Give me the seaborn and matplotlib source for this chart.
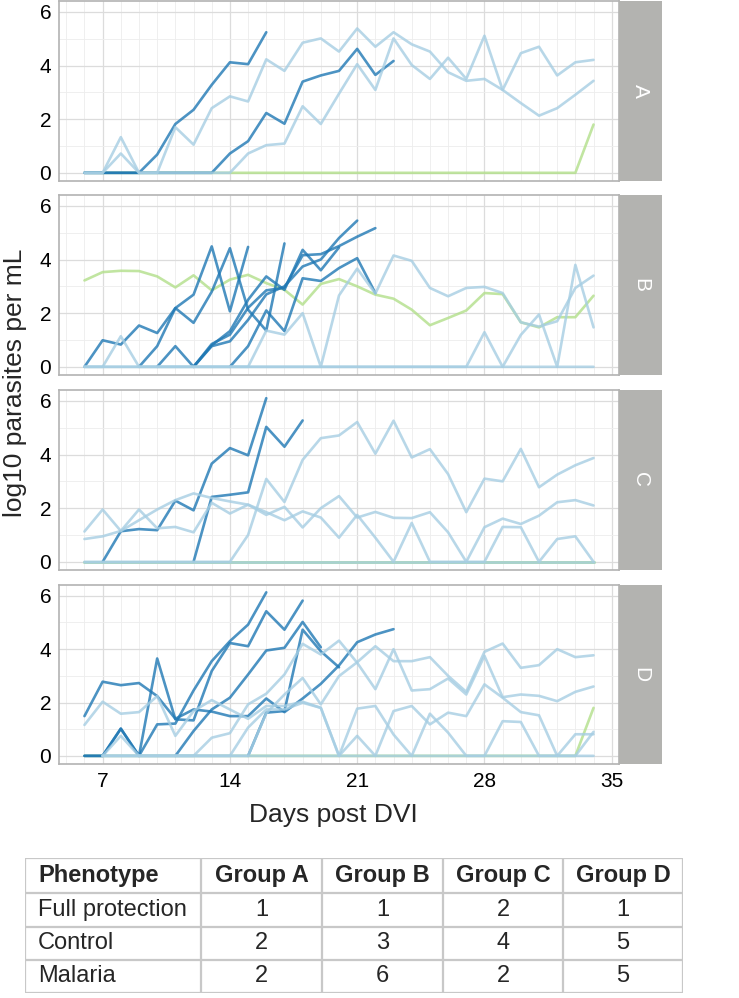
import numpy as np
import pandas as pd
import seaborn as sns
import matplotlib.pyplot as plt
from matplotlib.ticker import MultipleLocator

# each track: (first day, log10 parasites per mL for consecutive days)
a_full = [(6, [0] * 28 + [1.8])]
a_control = [
    (6, [0, 0, 1.33, 0, 0, 1.7, 1.05, 2.41, 2.85, 2.66, 4.23, 3.8, 4.85, 5.01, 4.52, 5.38,
         4.7, 5.24, 4.79, 4.52, 3.75, 3.43, 3.5, 3.09, 2.6, 2.13, 2.41, 2.91, 3.43]),
    (6, [0, 0, 0.72, 0, 0, 0, 0, 0, 0, 0.72, 1.03, 1.09, 2.48, 1.82, 2.95, 4.05,
         3.09, 5.01, 4.02, 3.5, 4.29, 3.5, 5.11, 3.09, 4.46, 4.7, 3.63, 4.12, 4.21]),
]
a_malaria = [
    (6, [0, 0, 0, 0, 0.68, 1.82, 2.35, 3.28, 4.12, 4.05, 5.24]),
    (6, [0, 0, 0, 0, 0, 0, 0, 0, 0.72, 1.18, 2.23, 1.83, 3.4, 3.63, 3.8, 4.62, 3.65, 4.17]),
]

b_full = [(6, [3.22, 3.53, 3.58, 3.57, 3.37, 2.96, 3.41, 2.85, 3.25, 3.43, 3.12, 2.87, 2.32,
               3.09, 3.27, 3.0, 2.69, 2.54, 2.13, 1.55, 1.82, 2.1, 2.75, 2.71, 1.66, 1.47,
               1.85, 1.85, 2.65])]
b_control = [
    (6, [0] * 10 + [1.35, 1.2, 2.0, 0, 2.66, 3.66, 2.73, 4.15, 3.95, 2.94, 2.63, 2.94, 2.98,
                    2.75, 1.66, 1.5, 1.7, 2.94, 3.4]),
    (6, [0] * 22 + [1.29, 0, 1.19, 1.95, 0, 3.8, 1.47]),
    (6, [0, 0, 1.14] + [0] * 26),
]
b_malaria = [
    (6, [0, 0.99, 0.83, 1.54, 1.26, 2.19, 1.64, 2.8, 4.42, 2.13, 1.35, 4.6]),
    (9, [0, 0.77, 2.19, 2.69, 4.49, 2.07, 4.47]),
    (12, [0, 0.8, 1.33, 2.5, 3.37, 2.87, 4.36, 3.6, 4.45]),
    (12, [0, 0.77, 0.95, 1.75, 2.7, 3.0, 3.74, 4.0, 4.8, 5.45]),
    (10, [0, 0.77, 0, 0.85, 1.2, 2.2, 2.85, 2.95, 4.16, 4.2, 4.5, 4.85, 5.17]),
    (14, [0, 0.77, 2.1, 1.33, 3.3, 3.2, 3.68, 4.05, 2.75]),
]

c_full = [(6, [0] * 29), (6, [0] * 29)]
c_control = [
    (6, [1.13, 1.95, 1.15, 1.95, 1.25, 1.3, 1.1, 2.2, 1.8, 2.13, 1.75, 2.05, 1.28, 2.0, 2.45,
         1.65, 1.86, 1.64, 1.63, 1.85, 1.1, 0, 1.29, 1.61, 1.41, 1.72, 2.22, 2.3, 2.1]),
    (6, [0.85, 0.95, 1.15, 1.55, 1.95, 2.3, 2.55, 2.38, 2.25, 2.13, 1.85, 1.55, 1.88, 1.65,
         0.9, 1.75, 0.9, 0, 1.45, 0, 0, 0, 0, 1.3, 1.29, 0, 0.85, 0.95, 0]),
    (6, [0] * 9 + [1.0, 3.09, 2.23, 3.8, 4.61, 4.71, 5.21, 4.03, 5.26, 3.89, 4.2, 3.27, 1.85,
                   3.1, 3.0, 4.21, 2.78, 3.25, 3.6, 3.87]),
    (6, [0] * 29),
]
c_malaria = [
    (7, [0, 1.14, 1.22, 1.18, 2.28, 1.92, 3.66, 4.24, 3.97, 6.1]),
    (12, [0, 2.42, 2.5, 2.59, 5.03, 4.29, 5.27]),
]

d_full = [(6, [0] * 28 + [1.8])]
d_control = [
    (6, [1.16, 2.03, 1.58, 1.64, 2.24, 0.75, 1.68, 2.09, 1.74, 1.39, 1.87, 1.87, 2.03, 1.8, 0,
         1.77, 1.87, 0.8, 0, 1.58, 0.87, 0, 0, 1.3, 1.27, 0, 0, 0.81, 0.81]),
    (7, [0] * 6 + [0.68, 0.85, 1.93, 2.33, 3.05, 4.2, 3.8, 4.32, 3.49, 2.5, 4.0, 2.45, 2.5,
                   2.9, 2.3, 3.75, 2.2, 2.3, 2.25, 2.05, 2.4, 2.6]),
    (7, [0] * 8 + [1.06, 1.74, 1.74, 1.99, 1.8, 0, 0.75, 0, 1.68, 1.87, 1.18, 1.62, 1.49,
                   2.68, 2.18, 1.64, 1.52, 0, 0, 0.9]),
    (7, [0] * 9 + [1.6, 2.3, 2.92, 1.93, 2.99, 3.51, 4.11, 3.55, 3.55, 3.7, 3.0, 2.4, 3.9,
                   4.21, 3.3, 3.4, 4.0, 3.7, 3.77]),
    (7, [0, 0.75] + [0] * 26),
]
d_malaria = [
    (6, [1.49, 2.78, 2.65, 2.73, 2.24, 1.39, 1.74, 1.66, 1.49, 1.49, 2.15, 1.64, 2.15, 2.7,
         3.39, 4.26, 4.55, 4.75]),
    (6, [0, 0, 1.02, 0, 3.65, 1.37, 1.33, 3.18, 4.23, 4.11, 5.42, 4.73, 5.82]),
    (6, [0, 0, 1.02, 0, 1.18, 1.21, 2.45, 3.55, 4.3, 4.92, 6.13]),
    (11, [0, 0.93, 1.74, 2.18, 3.05, 3.95, 4.05, 5.02, 4.07]),
    (15, [0, 1.62, 1.68, 4.73, 3.92, 3.32]),
]

panels = ["A", "B", "C", "D"]
groups = {
    "A": {"Full protection": a_full, "Control": a_control, "Malaria": a_malaria},
    "B": {"Full protection": b_full, "Control": b_control, "Malaria": b_malaria},
    "C": {"Full protection": c_full, "Control": c_control, "Malaria": c_malaria},
    "D": {"Full protection": d_full, "Control": d_control, "Malaria": d_malaria},
}

# table below the chart
table_header = ["Phenotype", "Group A", "Group B", "Group C", "Group D"]
phenotypes = ["Full protection", "Control", "Malaria"]
full_counts = [1, 1, 2, 1]
control_counts = [2, 3, 4, 5]
malaria_counts = [2, 6, 2, 5]

rows = []
for p in panels:
    for phen, tracks in groups[p].items():
        for i, (start, vals) in enumerate(tracks):
            for k, v in enumerate(vals):
                rows.append({"panel": p, "phenotype": phen, "subject": f"{p}{phen}{i}",
                             "day": start + k, "log10": v})
df = pd.DataFrame(rows)

palette = {"Full protection": "#b2df8a", "Malaria": "#1f78b4", "Control": "#a6cee3"}

sns.set_theme(style="white")
plt.rcParams['font.family'] = ['Liberation Sans', 'DejaVu Sans']

W, H = 739, 998
fig = plt.figure(figsize=(W / 100, H / 100), dpi=100)

panel_px = [(1, 181), (195, 375), (390, 570), (585, 764)]
left, right, strip_w = 59, 619, 43

for p, (top, bot) in zip(panels, panel_px):
    ax = fig.add_axes([left / W, 1 - bot / H, (right - left) / W, (bot - top) / H])
    sns.lineplot(data=df[df.panel == p], x="day", y="log10", hue="phenotype",
                 hue_order=["Full protection", "Malaria", "Control"], palette=palette,
                 units="subject", estimator=None, linewidth=1.9, alpha=0.8,
                 legend=False, ax=ax)
    ax.set_xlim(4.6, 35.4)
    ax.set_ylim(-0.305, 6.405)
    ax.set_xticks([7, 14, 21, 28, 35])
    ax.set_yticks([0, 2, 4, 6])
    ax.xaxis.set_minor_locator(MultipleLocator(1))
    ax.yaxis.set_minor_locator(MultipleLocator(1))
    ax.set_axisbelow(True)
    ax.grid(which="major", color="#dcdcdc", lw=0.9)
    ax.grid(which="minor", color="#ededed", lw=0.6)
    for s in ax.spines.values():
        s.set_color("#b3b3b3")
        s.set_linewidth(1.2)
    ax.tick_params(which="major", length=2.5, width=0.9, color="#b3b3b3",
                   labelcolor="black", labelsize=15, pad=3)
    ax.tick_params(which="minor", length=0)
    ax.set_xlabel("")
    ax.set_ylabel("")
    if p != "D":
        ax.set_xticklabels([])
        ax.tick_params(axis="x", length=0)

    sax = fig.add_axes([right / W, 1 - bot / H, strip_w / W, (bot - top) / H])
    sax.set_facecolor("#b3b3b0")
    sax.set_xticks([])
    sax.set_yticks([])
    for s in sax.spines.values():
        s.set_visible(False)
    sax.text(0.5, 0.5, p, rotation=270, ha="center", va="center", color="white",
             fontsize=15, transform=sax.transAxes)

fig.text(333 / W, 1 - 815 / H, "Days post DVI", ha="center", va="center", fontsize=19)
fig.text(15 / W, 1 - 383 / H, "log10 parasites per mL", rotation=90,
         ha="center", va="center", fontsize=19)

# table
tx0, tx1, ty0, ty1 = 25, 683, 858, 993
tax = fig.add_axes([tx0 / W, 1 - ty1 / H, (tx1 - tx0) / W, (ty1 - ty0) / H])
tax.set_xlim(tx0, tx1)
tax.set_ylim(ty1, ty0)
tax.axis("off")
col_edges = [25, 201, 322, 443, 563, 683]
row_edges = [858, 893, 927, 960, 993]
for x in col_edges:
    tax.plot([x, x], [ty0, ty1], color="#c8c8c8", lw=1.6, solid_capstyle="projecting")
for y in row_edges:
    tax.plot([tx0, tx1], [y, y], color="#c8c8c8", lw=1.6, solid_capstyle="projecting")

body = [[phen] + [str(v) for v in counts] for phen, counts in
        zip(phenotypes, [full_counts, control_counts, malaria_counts])]
for r, row in enumerate([table_header] + body):
    yc = (row_edges[r] + row_edges[r + 1]) / 2
    for c, txt in enumerate(row):
        weight = "bold" if r == 0 else "normal"
        if c == 0:
            tax.text(col_edges[0] + 13, yc, txt, ha="left", va="center",
                     fontsize=17, fontweight=weight)
        else:
            tax.text((col_edges[c] + col_edges[c + 1]) / 2, yc, txt, ha="center",
                     va="center", fontsize=17, fontweight=weight)

fig.savefig("out.png", dpi=100)
